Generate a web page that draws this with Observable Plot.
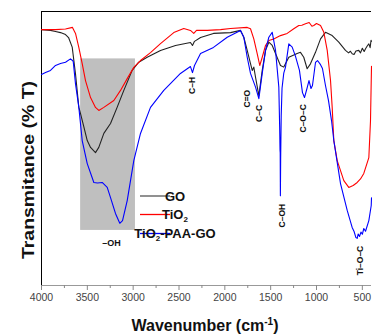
<!DOCTYPE html>
<html><head><meta charset="utf-8">
<script src="https://cdn.jsdelivr.net/npm/d3@7"></script>
<script src="https://cdn.jsdelivr.net/npm/@observablehq/plot@0.6"></script>
<style>
body{margin:0;background:#fff;}
#chart{width:372px;height:336px;}
</style>
</head><body><div id="chart"></div>
<script>
const seriesNames = ["GO", "TiO2", "TiO2-PAA-GO"];
const seriesColors = ["#222222", "#ff0000", "#0000ff"];

const goWn = [4000,3902,3847,3793,3738,3705,3665,3629,3593,3575,3542,3501,3465,3411,3375,3320,3247,3174,3102,3011,2939,2847,2702,2538,2375,2353,2331,2265,2124,1938,1829,1793,1756,1720,1701,1684,1665,1629,1592,1556,1520,1483,1447,1393,1357,1302,1211,1175,1139,1102,1066,1011,956,902,829,757,684,650,630,611,590,570,539,520,500,480,465,445,429,415,405,400];
const goT = [93.4,93.1,92.7,92.3,91.6,90.5,87.0,77.2,65.1,62.8,58.4,52.9,50.4,48.5,50.4,55.5,59.1,65.1,71.2,78.5,81.5,83.3,85.8,87.6,88.7,87.6,89.1,90.5,92.0,92.3,93.1,90.6,85.8,81.0,78.5,79.7,76.0,69.3,78.5,85.8,88.8,87.6,84.7,80.3,79.7,83.3,84.7,85.1,83.3,79.1,80.9,85.1,90.0,92.4,91.2,88.8,85.8,84.9,85.5,84.6,84.3,85.6,85.8,84.9,86.6,85.4,86.4,87.5,88.2,86.8,89.5,89.1];

const tiWn = [4000,3847,3738,3662,3629,3593,3556,3520,3465,3411,3375,3320,3211,3138,3065,2993,2920,2811,2702,2557,2448,2375,2339,2309,2192,2047,1938,1756,1720,1684,1647,1619,1592,1556,1520,1466,1393,1320,1248,1193,1160,1120,1080,1050,1030,1000,956,920,883,847,829,811,774,702,648,600,556,520,484,429,411,400];
const tiT = [93.4,93.4,93.6,94.2,92.0,86.9,81.0,74.8,68.6,65.0,63.9,65.0,67.5,71.2,75.5,79.6,82.1,85.0,88.3,92.3,93.8,93.1,92.0,93.1,93.1,93.4,93.8,94.2,93.7,90.0,84.6,80.3,83.3,87.6,89.4,90.0,91.2,92.0,93.7,94.9,95.0,95.5,96.0,94.6,94.9,95.6,94.9,92.4,85.8,74.8,65.1,52.9,45.6,38.3,35.8,36.5,37.6,38.9,40.9,46.7,60,80];

const compWn = [4000,3956,3902,3847,3793,3738,3684,3662,3654,3629,3593,3556,3501,3429,3389,3338,3283,3247,3193,3146,3116,3065,3029,2993,2920,2811,2666,2484,2375,2353,2331,2265,2124,1974,1829,1793,1756,1720,1665,1629,1592,1556,1520,1483,1447,1411,1402,1398,1396,1394,1391,1385,1376,1357,1338,1302,1265,1229,1186,1153,1131,1104,1082,1060,1044,1011,989,956,935,902,869,836,811,738,665,611,590,570,556,545,530,515,500,484,465,429,403,400];
const compT = [77.0,77.7,78.5,80.3,81.0,81.5,82.7,82.1,81.8,73.6,65.1,52.9,44.5,37.6,37.4,37.6,35.8,32.1,26.3,22.7,23.7,31.0,38.3,45.6,55.5,65.0,71.2,77.4,79.9,77.7,80.3,84.7,86.9,90.6,93.1,90.6,83.3,77.4,72.4,68.2,77.4,85.8,90.6,92.4,85.8,72.4,58,49.5,48.5,32.8,46,62,72,77.5,79.7,88.2,87.0,83.6,78.5,70.4,68.6,71.9,74.8,71.9,73.0,81.4,82.1,80.6,79.2,73.0,67.5,60.2,52.9,37.2,27.4,21.2,19.7,17.5,17.2,18.8,17.9,19.5,18.7,20.8,19.8,23.7,29.2,32];

const ohBand = {x1: 3573, x2: 2975, y1: 20.1, y2: 82.7};
const annText = ["C\u2013H", "C=O", "C\u2013C", "C\u2013OH", "C\u2013O\u2013C", "Ti\u2013O\u2013C"];
const annWn = [2353, 1756, 1620, 1375, 1139, 520];
const annT = [73, 68.2, 62.8, 25.5, 61, 9.1];
const ohLabel = {text: "\u2013OH", wn: 3236, t: 15.3};

const majorTicks = [4000,3500,3000,2500,2000,1500,1000,500];
const minorTicks = [3750,3250,2750,2250,1750,1250,750];

const rows = [];
[[goWn, goT], [tiWn, tiT], [compWn, compT]].forEach(([w, t], i) => {
  w.forEach((v, j) => rows.push({s: seriesNames[i], wn: v, t: t[j]}));
});
const anns = annText.map((s, i) => ({s, wn: annWn[i], t: annT[i]}));

const font = "'Liberation Sans', Arial, sans-serif";
const plot = Plot.plot({
  width: 372, height: 336,
  marginLeft: 41, marginRight: 1, marginTop: 11, marginBottom: 51,
  style: {fontFamily: font, background: "transparent", overflow: "visible"},
  x: {domain: [4000, 400]},
  y: {domain: [0, 100]},
  color: {domain: seriesNames, range: seriesColors},
  marks: [
    Plot.rect([ohBand], {x1: "x1", x2: "x2", y1: "y1", y2: "y2", fill: "#bfbfbf"}),
    Plot.ruleY([0], {stroke: "#999", strokeWidth: 1.2}),
    Plot.ruleY([100], {stroke: "#000", strokeWidth: 1}),
    Plot.ruleX([4000], {stroke: "#000", strokeWidth: 1}),
    Plot.axisX({ticks: majorTicks, tickSize: 5, tickPadding: 3, fontSize: 10.5, label: null, stroke: "#888", fill: "#444", tickFormat: d => String(d)}),
    Plot.axisX({ticks: minorTicks, tickSize: 3, text: null, label: null, stroke: "#888"}),
    Plot.axisY({ticks: [], label: null}),
    Plot.line(rows, {x: "wn", y: "t", z: "s", stroke: "s", strokeWidth: 1.1}),
    Plot.text(anns, {x: "wn", y: "t", text: "s", rotate: -90, fontSize: 8.5, fontWeight: "bold", fill: "#111"}),
    Plot.text([ohLabel], {x: "wn", y: "t", text: "text", fontSize: 9, fontWeight: "bold", fill: "#111"})
  ]
});
document.getElementById("chart").appendChild(plot);

const svg = d3.select(plot);
// legend
const lg = svg.append("g").attr("font-family", font).attr("font-weight", "bold").attr("font-size", 13).attr("fill", "#111");
const legY = [196, 214.5, 233.5];
const legLabels = [["GO", null], ["TiO", "2"], ["TiO", "2", "-PAA-GO"]];
legY.forEach((y, i) => {
  lg.append("line").attr("x1", 140).attr("x2", 170).attr("y1", y).attr("y2", y)
    .attr("stroke", i === 0 ? "#555" : seriesColors[i]).attr("stroke-width", 1.3);
  const t = lg.append("text").attr("x", 175).attr("y", y + 4.5);
  const parts = legLabels[i];
  t.append("tspan").text(parts[0]);
  if (parts[1]) t.append("tspan").attr("font-size", 8).attr("dy", 3).text(parts[1]);
  if (parts[2]) t.append("tspan").attr("dy", -3).text(parts[2]);
});
// axis labels
const xl = svg.append("text").attr("x", 205).attr("y", 331).attr("text-anchor", "middle")
  .attr("font-family", font).attr("font-weight", "bold").attr("font-size", 16).attr("fill", "#111");
xl.append("tspan").text("Wavenumber (cm");
xl.append("tspan").attr("font-size", 10).attr("dy", -6).text("-1");
xl.append("tspan").attr("dy", 6).text(")");
svg.append("text").attr("transform", "translate(34,170) rotate(-90)").attr("text-anchor", "middle")
  .attr("font-family", font).attr("font-weight", "bold").attr("font-size", 16).attr("fill", "#111")
  .attr("textLength", 178).attr("lengthAdjust", "spacingAndGlyphs")
  .text("Transmitance (% T)");
</script>
</body></html>
